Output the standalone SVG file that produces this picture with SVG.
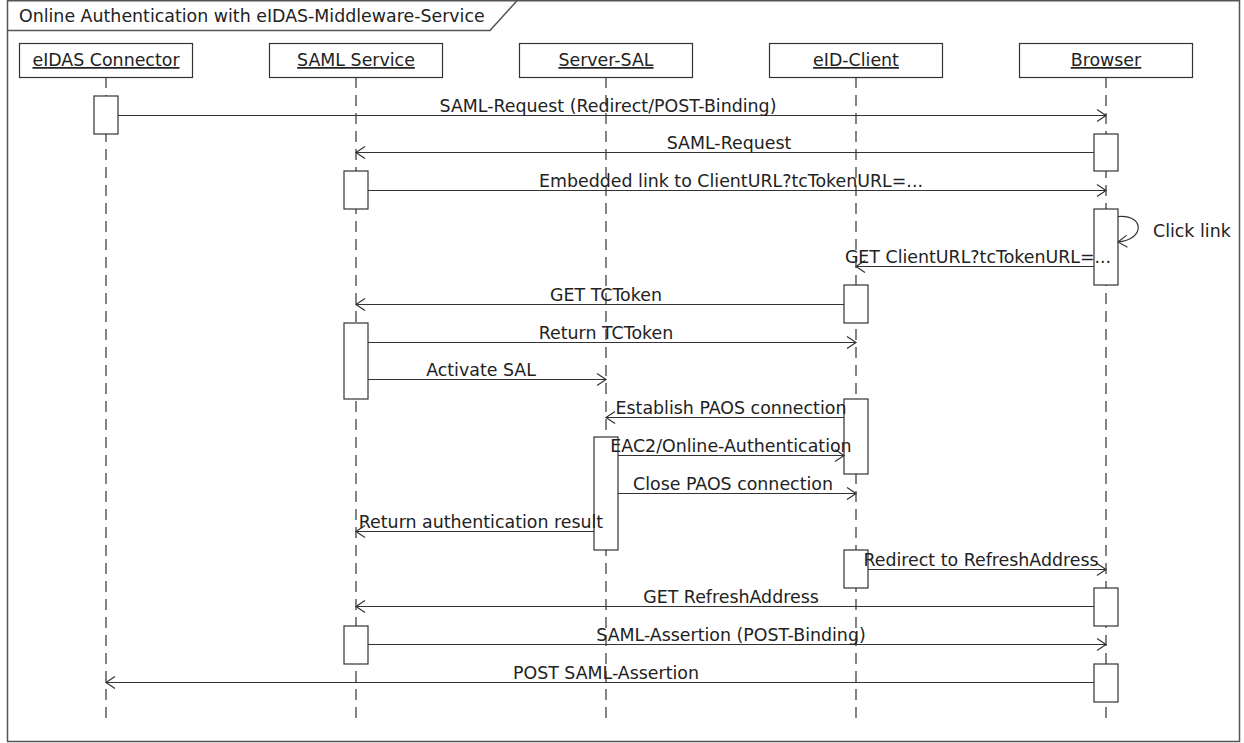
<svg xmlns="http://www.w3.org/2000/svg" width="1244" height="743" viewBox="0 0 1244 743">
<style>
text{font-family:"DejaVu Sans","Liberation Sans",sans-serif;font-size:17.4px;fill:#222}
.hd{text-anchor:middle;text-decoration:underline}
.lb{text-anchor:middle}
.box{fill:#fff;stroke:#333;stroke-width:1.2}
.act{fill:#fff;stroke:#333;stroke-width:1.2}
.life{stroke:#333;stroke-width:1.2;stroke-dasharray:11 7;fill:none}
.msg{stroke:#333;stroke-width:1.2;fill:none;marker-end:url(#arr)}
.frame{fill:none;stroke:#555;stroke-width:1.5}
</style>
<defs>
<marker id="arr" viewBox="-11 -8 13 16" refX="0" refY="0" markerWidth="13" markerHeight="16" markerUnits="userSpaceOnUse" orient="auto">
<path d="M-9,-6 L0,0 L-9,6" fill="none" stroke="#333" stroke-width="1.2"/>
</marker>
</defs>
<rect width="1244" height="743" fill="#fff"/>
<g id="frame">
<rect class="frame" x="7.5" y="0.75" width="1232" height="740.75"/>
<polyline class="frame" points="7.5,30.5 490,30.5 517,0.75"/>
<text x="19" y="21.5">Online Authentication with eIDAS-Middleware-Service</text>
</g>
<g id="lifelines">
<line class="life" x1="106" y1="77" x2="106" y2="720"/>
<line class="life" x1="356" y1="77" x2="356" y2="722"/>
<line class="life" x1="606" y1="77" x2="606" y2="722"/>
<line class="life" x1="856" y1="77" x2="856" y2="722"/>
<line class="life" x1="1106" y1="77" x2="1106" y2="722"/>
</g>
<g id="eidas-connector">
<rect class="box" x="19.5" y="43.5" width="173" height="34"/>
<text class="hd" x="106" y="66">eIDAS Connector</text>
<rect class="act" x="94" y="96" width="24" height="38"/>
</g>
<g id="saml-service">
<rect class="box" x="269.5" y="43.5" width="173" height="34"/>
<text class="hd" x="356" y="66">SAML Service</text>
<rect class="act" x="344" y="171" width="24" height="38"/>
<rect class="act" x="344" y="323" width="24" height="76"/>
<rect class="act" x="344" y="626" width="24" height="38"/>
</g>
<g id="server-sal">
<rect class="box" x="519.5" y="43.5" width="173" height="34"/>
<text class="hd" x="606" y="66">Server-SAL</text>
<rect class="act" x="594" y="437" width="24" height="113"/>
</g>
<g id="eid-client">
<rect class="box" x="769.5" y="43.5" width="173" height="34"/>
<text class="hd" x="856" y="66">eID-Client</text>
<rect class="act" x="844" y="285" width="24" height="38"/>
<rect class="act" x="844" y="399" width="24" height="75"/>
<rect class="act" x="844" y="550" width="24" height="38"/>
</g>
<g id="browser">
<rect class="box" x="1019.5" y="43.5" width="173" height="34"/>
<text class="hd" x="1106" y="66">Browser</text>
<rect class="act" x="1094" y="134" width="24" height="37"/>
<rect class="act" x="1094" y="209" width="24" height="76"/>
<rect class="act" x="1094" y="588" width="24" height="38"/>
<rect class="act" x="1094" y="664" width="24" height="38"/>
</g>
<g id="connectors">
<line class="msg" x1="118" y1="115.5" x2="1106" y2="115.5"/>
<line class="msg" x1="1094" y1="152.5" x2="356" y2="152.5"/>
<line class="msg" x1="368" y1="190.5" x2="1106" y2="190.5"/>
<path class="msg" d="M1118,216.5 C1145,214 1145,240 1118,242"/>
<line class="msg" x1="1094" y1="266.5" x2="856" y2="266.5"/>
<line class="msg" x1="844" y1="304.5" x2="356" y2="304.5"/>
<line class="msg" x1="368" y1="342.5" x2="856" y2="342.5"/>
<line class="msg" x1="368" y1="379.5" x2="606" y2="379.5"/>
<line class="msg" x1="844" y1="417.5" x2="606" y2="417.5"/>
<line class="msg" x1="618" y1="455.5" x2="844" y2="455.5"/>
<line class="msg" x1="618" y1="493.5" x2="856" y2="493.5"/>
<line class="msg" x1="594" y1="531.5" x2="356" y2="531.5"/>
<line class="msg" x1="868" y1="569.5" x2="1106" y2="569.5"/>
<line class="msg" x1="1094" y1="606.5" x2="356" y2="606.5"/>
<line class="msg" x1="368" y1="644.5" x2="1106" y2="644.5"/>
<line class="msg" x1="1094" y1="682.5" x2="106" y2="682.5"/>
<text class="lb" x="608" y="112">SAML-Request (Redirect/POST-Binding)</text>
<text class="lb" x="729" y="149">SAML-Request</text>
<text class="lb" x="731" y="187">Embedded link to ClientURL?tcTokenURL=...</text>
<text x="1153" y="237">Click link</text>
<text class="lb" x="978" y="263">GET ClientURL?tcTokenURL=...</text>
<text class="lb" x="606" y="301">GET TCToken</text>
<text class="lb" x="606" y="339">Return TCToken</text>
<text class="lb" x="481" y="376">Activate SAL</text>
<text class="lb" x="731" y="414">Establish PAOS connection</text>
<text class="lb" x="731" y="452">EAC2/Online-Authentication</text>
<text class="lb" x="733" y="490">Close PAOS connection</text>
<text class="lb" x="481" y="528">Return authentication result</text>
<text class="lb" x="981" y="566">Redirect to RefreshAddress</text>
<text class="lb" x="731" y="603">GET RefreshAddress</text>
<text class="lb" x="731" y="641">SAML-Assertion (POST-Binding)</text>
<text class="lb" x="606" y="679">POST SAML-Assertion</text>
</g>
</svg>
